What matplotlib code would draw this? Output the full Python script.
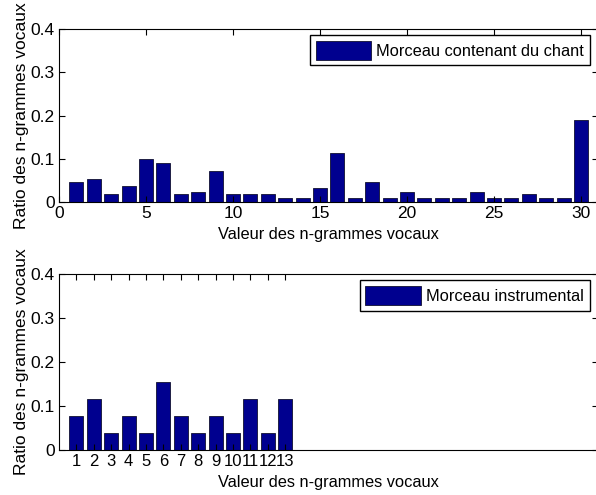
import numpy as np
import matplotlib
matplotlib.use("Agg")
import matplotlib.pyplot as plt

plt.rcParams['font.family'] = ['Liberation Sans', 'DejaVu Sans']

# n-gram values (x positions) and ratios for each piece
chant_x = np.arange(1, 31)
chant_ratio = [0.047, 0.053, 0.018, 0.038, 0.099, 0.091, 0.018, 0.024, 0.071, 0.018,
               0.018, 0.018, 0.009, 0.009, 0.033, 0.114, 0.009, 0.047, 0.009, 0.024,
               0.009, 0.009, 0.009, 0.024, 0.009, 0.009, 0.018, 0.009, 0.009, 0.190]

instr_x = np.arange(1, 14)
instr_ratio = [0.077, 0.115, 0.038, 0.077, 0.038, 0.154, 0.077, 0.038, 0.077, 0.038,
               0.115, 0.038, 0.115]

chant_xticks = [0, 5, 10, 15, 20, 25, 30]
yticks = [0, 0.1, 0.2, 0.3, 0.4]
ytick_labels = ['0', '0.1', '0.2', '0.3', '0.4']

xlabel = "Valeur des n-grammes vocaux"
ylabel = "Ratio des n-grammes vocaux"

barcol = '#00008f'
fs = 11.8

fig = plt.figure(figsize=(5.96, 4.95), dpi=100)
ax1 = fig.add_axes([0.099, 0.592, 0.905, 0.349])
ax2 = fig.add_axes([0.099, 0.091, 0.905, 0.355])

def style(ax):
    ax.set_xlim(0, 31)
    ax.set_ylim(0, 0.4)
    ax.set_yticks(yticks)
    ax.set_yticklabels(ytick_labels)
    ax.tick_params(direction='in', top=True, right=True, length=4, width=0.8,
                   labelsize=12.5, pad=3)
    for s in ax.spines.values():
        s.set_linewidth(0.8)
    ax.set_xlabel(xlabel, fontsize=fs, labelpad=4)
    ax.set_ylabel(ylabel, fontsize=12.5, labelpad=1)

ax1.bar(chant_x, chant_ratio, width=0.8, color=barcol, edgecolor='#101030',
        linewidth=0.6, label="Morceau contenant du chant")
style(ax1)
ax1.set_xticks(chant_xticks)
ax1.legend(loc='upper right', bbox_to_anchor=(0.99, 0.985), fontsize=fs, frameon=True,
           fancybox=False, edgecolor='black', framealpha=1, borderpad=0.35,
           handlelength=3.4, handleheight=1.4, handletextpad=0.3, borderaxespad=0.2)

ax2.bar(instr_x, instr_ratio, width=0.8, color=barcol, edgecolor='#101030',
        linewidth=0.6, label="Morceau instrumental")
style(ax2)
ax2.set_xticks(instr_x)
ax2.tick_params(axis='x', labelsize=12)
ax2.legend(loc='upper right', bbox_to_anchor=(0.99, 0.985), fontsize=fs, frameon=True,
           fancybox=False, edgecolor='black', framealpha=1, borderpad=0.35,
           handlelength=3.4, handleheight=1.4, handletextpad=0.3, borderaxespad=0.2)

fig.savefig("out.png", dpi=100)
